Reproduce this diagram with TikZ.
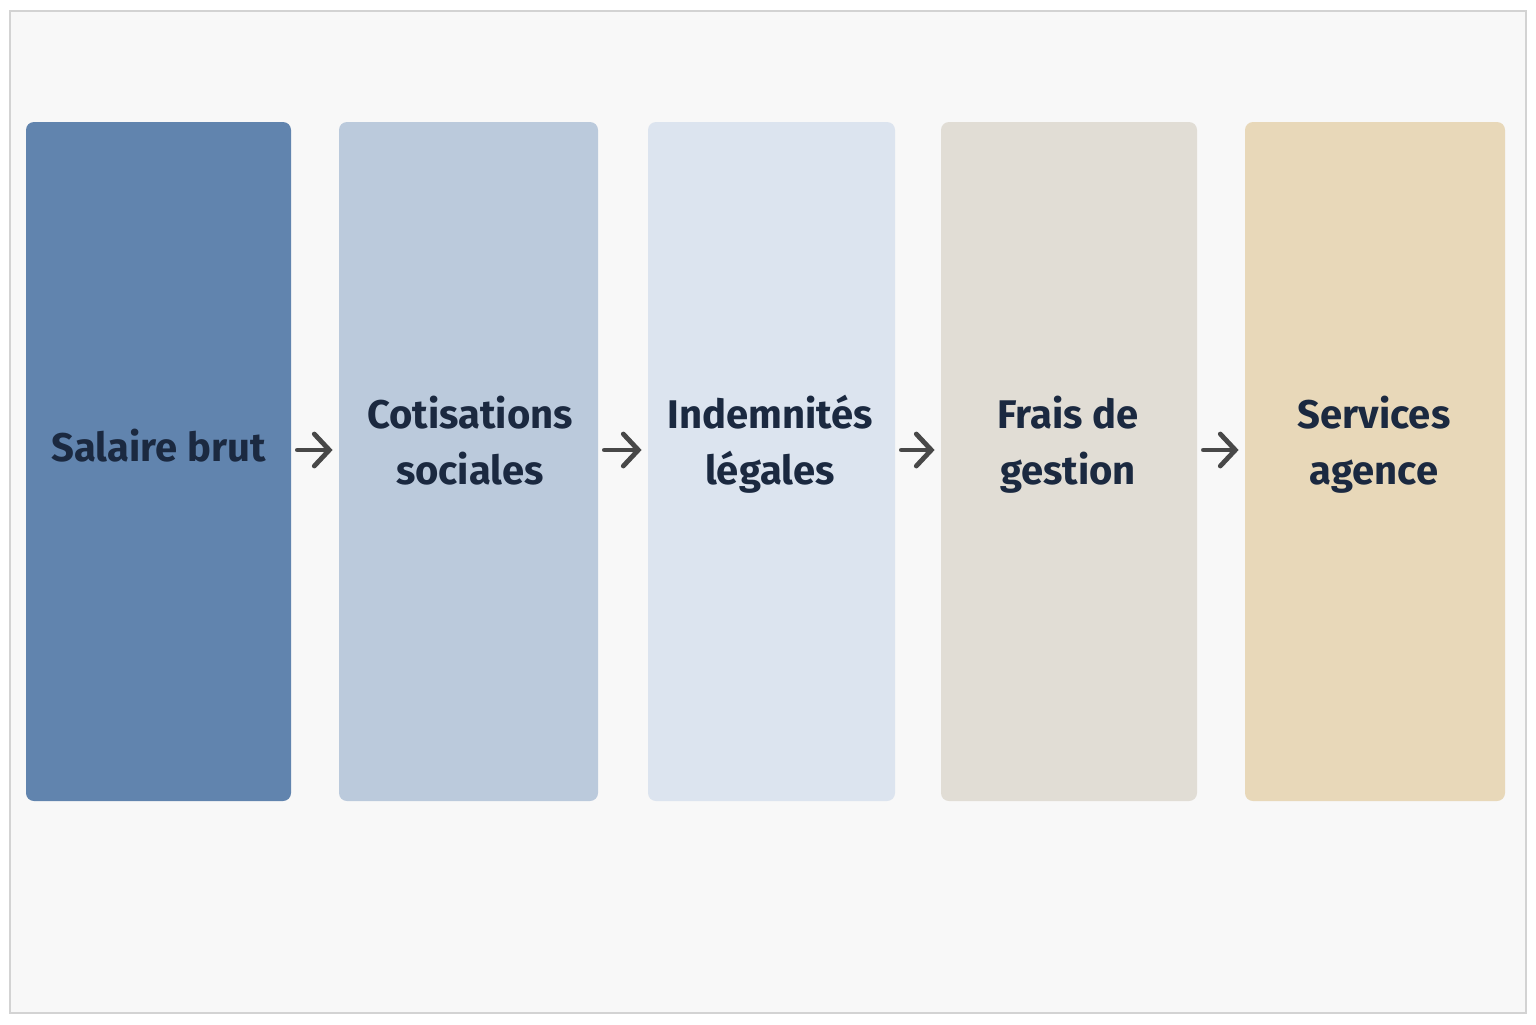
\documentclass[tikz,border=0pt]{standalone}
\usepackage{fontspec}
\setmainfont{Fira Sans}
\usetikzlibrary{arrows.meta}
\definecolor{frameline}{HTML}{D3D3D3}
\definecolor{paper}{HTML}{F8F8F8}
\definecolor{ink}{HTML}{1B2940}
\definecolor{arrowgray}{HTML}{484848}
\definecolor{brut}{HTML}{6184AE}
\definecolor{cotis}{HTML}{BBCADC}
\definecolor{indem}{HTML}{DCE4EF}
\definecolor{frais}{HTML}{E1DDD5}
\definecolor{agence}{HTML}{E8D8B9}
\tikzset{
  box/.style={rounded corners=4pt,inner sep=0pt,minimum height=339.5pt},
  lbl/.style={text=ink,font=\fontsize{20}{28}\selectfont\bfseries,align=center},
  arr/.style={-{Straight Barb[length=7.5pt,width=16pt,line cap=round]},line width=2.4pt,
    line cap=round,color=arrowgray,shorten <=3pt,shorten >=3pt}
}
\begin{document}
\begin{tikzpicture}[x=0.5pt,y=-0.5pt]
        \useasboundingbox (0,0) rectangle (1536,1024) ;
        \fill[white] (0,0) rectangle (1536,1024) ;
        \draw[frameline,fill=paper,line width=0.75pt] (10,11) rectangle (1526,1013) ;
        % the five blocks
        \node[box,fill=brut,minimum width=132.5pt] (b1) at (158.5,461.5) {} ;
        \node[box,fill=cotis,minimum width=129.5pt] (b2) at (468.5,461.5) {} ;
        \node[box,fill=indem,minimum width=123.5pt] (b3) at (771.5,461.5) {} ;
        \node[box,fill=frais,minimum width=128pt] (b4) at (1069,461.5) {} ;
        \node[box,fill=agence,minimum width=130pt] (b5) at (1375,461.5) {} ;
        \node[lbl] (t1) at (158.5,446) {Salaire brut} ;
        \node[lbl] (t2) at (470,441) {Cotisations\\sociales} ;
        \node[lbl] (t3) at (770,444) {Indemnités\\légales} ;
        \node[lbl] (t4) at (1068,445) {Frais de\\gestion} ;
        \node[lbl] (t5) at (1374,445) {Services\\agence} ;
        \foreach \a/\b in {b1/b2,b2/b3,b3/b4,b4/b5}
          \draw[arr] ([yshift=5.75pt]\a.east) -- ([yshift=5.75pt]\b.west) ;
      \end{tikzpicture}
\end{document}
